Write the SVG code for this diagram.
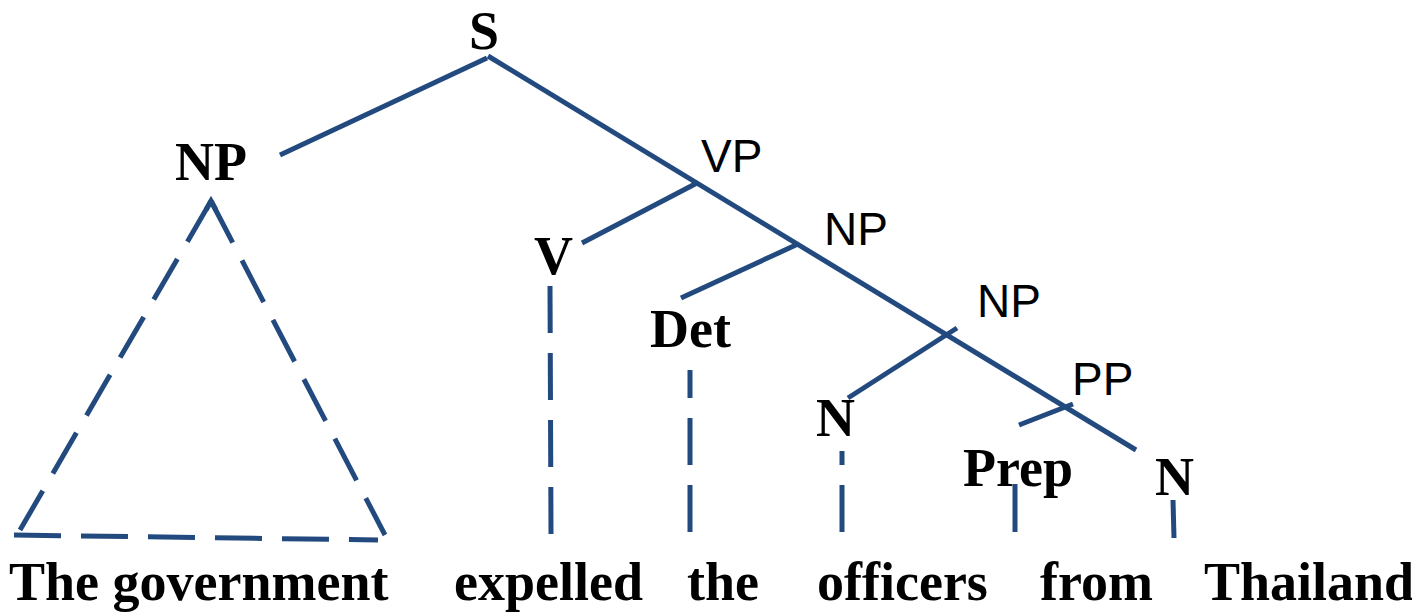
<svg xmlns="http://www.w3.org/2000/svg" width="1412" height="613" viewBox="0 0 1412 613">
  <style>
    .cat { font-family: "Liberation Serif", "Times New Roman", serif; font-weight: bold; font-size: 54px; fill: #000; }
    .phr { font-family: "Liberation Sans", Arial, sans-serif; font-size: 46px; fill: #000; }
    .word { font-family: "Liberation Serif", "Times New Roman", serif; font-weight: bold; font-size: 54px; fill: #000; }
    .edge { stroke: #234A7F; stroke-width: 5; fill: none; stroke-linecap: butt; }
    .dash { stroke: #234A7F; stroke-width: 5; fill: none; stroke-linecap: butt; stroke-dasharray: 47 20; }
  </style>

  <!-- connectors of the parse tree -->
  <g id="connectors">
    <path class="edge" d="M487,58 L280,155"/>
    <path class="edge" d="M488,56 L1136,450"/>
    <path class="edge" d="M697,183 L582,243"/>
    <path class="edge" d="M798,244 L681,298"/>
    <path class="edge" d="M957,328 L848,398"/>
    <path class="edge" d="M1073,404 L1019,425"/>
    <path class="edge" d="M1015,484 L1015,532"/>
    <path class="edge" d="M1173,500 L1174,538"/>

    <!-- unanalysed subject NP: dashed triangle -->
    <path class="dash" d="M211,201 L20,530"/>
    <path class="dash" d="M211,201 L385,535"/>
    <path class="edge" stroke-linejoin="miter" d="M206,210 L211,201 L216,210"/>
    <path class="dash" stroke-width="6" d="M14,535 L378,540"/>

    <!-- lexical attachments -->
    <path class="dash" stroke-dasharray="47 19" d="M550,286 L551,534"/>
    <path class="dash" stroke-dasharray="48 19" d="M690,532 L690,370"/>
    <path class="dash" stroke-dasharray="48 19" d="M842,532 L842,451"/>
  </g>

  <g id="node-S"><text class="cat" x="469" y="49">S</text></g>
  <g id="node-NP-subj"><text class="cat" x="175" y="180">NP</text></g>
  <g id="node-VP"><text class="phr" x="701" y="172">VP</text></g>
  <g id="node-V"><text class="cat" x="534" y="274">V</text></g>
  <g id="node-NP-obj"><text class="phr" x="824" y="245">NP</text></g>
  <g id="node-Det"><text class="cat" x="650" y="347">Det</text></g>
  <g id="node-NP-head"><text class="phr" x="977" y="317">NP</text></g>
  <g id="node-N1"><text class="cat" x="816" y="436">N</text></g>
  <g id="node-PP"><text class="phr" x="1072" y="395">PP</text></g>
  <g id="node-Prep"><text class="cat" x="963" y="486">Prep</text></g>
  <g id="node-N2"><text class="cat" x="1155" y="495">N</text></g>

  <g id="words">
    <text class="word" x="9" y="600">The government</text>
    <text class="word" x="454" y="600">expelled</text>
    <text class="word" x="687" y="600">the</text>
    <text class="word" x="817" y="600">officers</text>
    <text class="word" x="1040" y="600">from</text>
    <text class="word" x="1204" y="600">Thailand</text>
  </g>
</svg>
